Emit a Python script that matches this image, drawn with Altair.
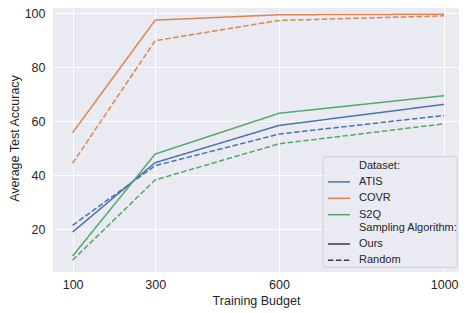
import altair as alt
import pandas as pd

budgets = [100, 300, 600, 1000]
atis_ours = [19.0, 44.7, 58.5, 66.3]
atis_random = [21.5, 43.6, 55.3, 62.2]
covr_ours = [55.8, 97.5, 99.5, 99.7]
covr_random = [44.5, 89.9, 97.4, 99.1]
s2q_ours = [10.1, 47.9, 63.0, 69.5]
s2q_random = [8.6, 38.3, 51.7, 59.1]

x_ticks = [100, 300, 600, 1000]
y_ticks = [20, 40, 60, 80, 100]

series = [
    ("ATIS", "Ours", atis_ours),
    ("ATIS", "Random", atis_random),
    ("COVR", "Ours", covr_ours),
    ("COVR", "Random", covr_random),
    ("S2Q", "Ours", s2q_ours),
    ("S2Q", "Random", s2q_random),
]
rows = []
for ds, alg, vals in series:
    for b, v in zip(budgets, vals):
        rows.append({"Budget": b, "Accuracy": v, "Dataset": ds, "Algorithm": alg})
df = pd.DataFrame(rows)

FONT = "Liberation Sans"
TXT = "#262626"
LINE_SYMBOL = "M-2,0H2"

lines = alt.Chart(df).mark_line(strokeWidth=1.5).encode(
    x=alt.X("Budget:Q",
            scale=alt.Scale(domain=[52.5, 1036], nice=False, zero=False),
            axis=alt.Axis(values=x_ticks, format="d", title="Training Budget", labelPadding=6,
                          titlePadding=4)),
    y=alt.Y("Accuracy:Q",
            scale=alt.Scale(domain=[4.2, 102], nice=False, zero=False),
            axis=alt.Axis(values=y_ticks, title="Average Test Accuracy", labelPadding=8,
                          titleX=-39, titleY=130, titleBaseline="middle")),
    color=alt.Color("Dataset:N",
                    scale=alt.Scale(domain=["Dataset:", "ATIS", "COVR", "S2Q"],
                                    range=["rgba(0,0,0,0)", "#4C72B0", "#DD8452", "#55A868"]),
                    legend=alt.Legend(orient="none", legendX=279.5, legendY=151, title=None,
                                      symbolType=LINE_SYMBOL, symbolSize=121, symbolStrokeWidth=1.5,
                                      labelFontSize=11, labelFont=FONT, labelColor=TXT,
                                      labelOffset=13.5, rowPadding=4.4, padding=0)),
    strokeDash=alt.StrokeDash("Algorithm:N",
                              scale=alt.Scale(domain=["Sampling Algorithm:", "Ours", "Random"],
                                              range=[[0, 100], [1, 0], [5.5, 2.4]]),
                              legend=alt.Legend(orient="none", legendX=279.5, legendY=213, title=None,
                                                symbolType=LINE_SYMBOL, symbolSize=121,
                                                symbolStrokeWidth=1.5, symbolStrokeColor="#3d3d3d",
                                                labelFontSize=11, labelFont=FONT, labelColor=TXT,
                                                labelOffset=13.5, rowPadding=4.4, padding=0)),
    detail="Algorithm:N",
)

box = alt.Chart(pd.DataFrame({"a": [0]})).mark_rect(
    fill="#EAEAF2", fillOpacity=0.8, stroke="#cfcfd4", strokeWidth=1, cornerRadius=3
).encode(
    x=alt.value(270), x2=alt.value(404), y=alt.value(148.7), y2=alt.value(259.3)
)

chart = alt.layer(lines, box).properties(
    width=406, height=264,
    autosize=alt.AutoSizeParams(type="none"),
    padding={"left": 45, "top": 0, "right": 0, "bottom": 36},
    background="white",
).configure_view(
    fill="#EAEAF2", stroke=None
).configure_axis(
    grid=True, gridColor="white", gridWidth=1, domain=False, ticks=False,
    labelFont=FONT, labelFontSize=12.5, labelColor=TXT,
    titleFont=FONT, titleFontSize=12.5, titleColor=TXT, titleFontWeight="normal",
)

chart.save("out.html", embed_options={"renderer": "svg", "actions": False})
